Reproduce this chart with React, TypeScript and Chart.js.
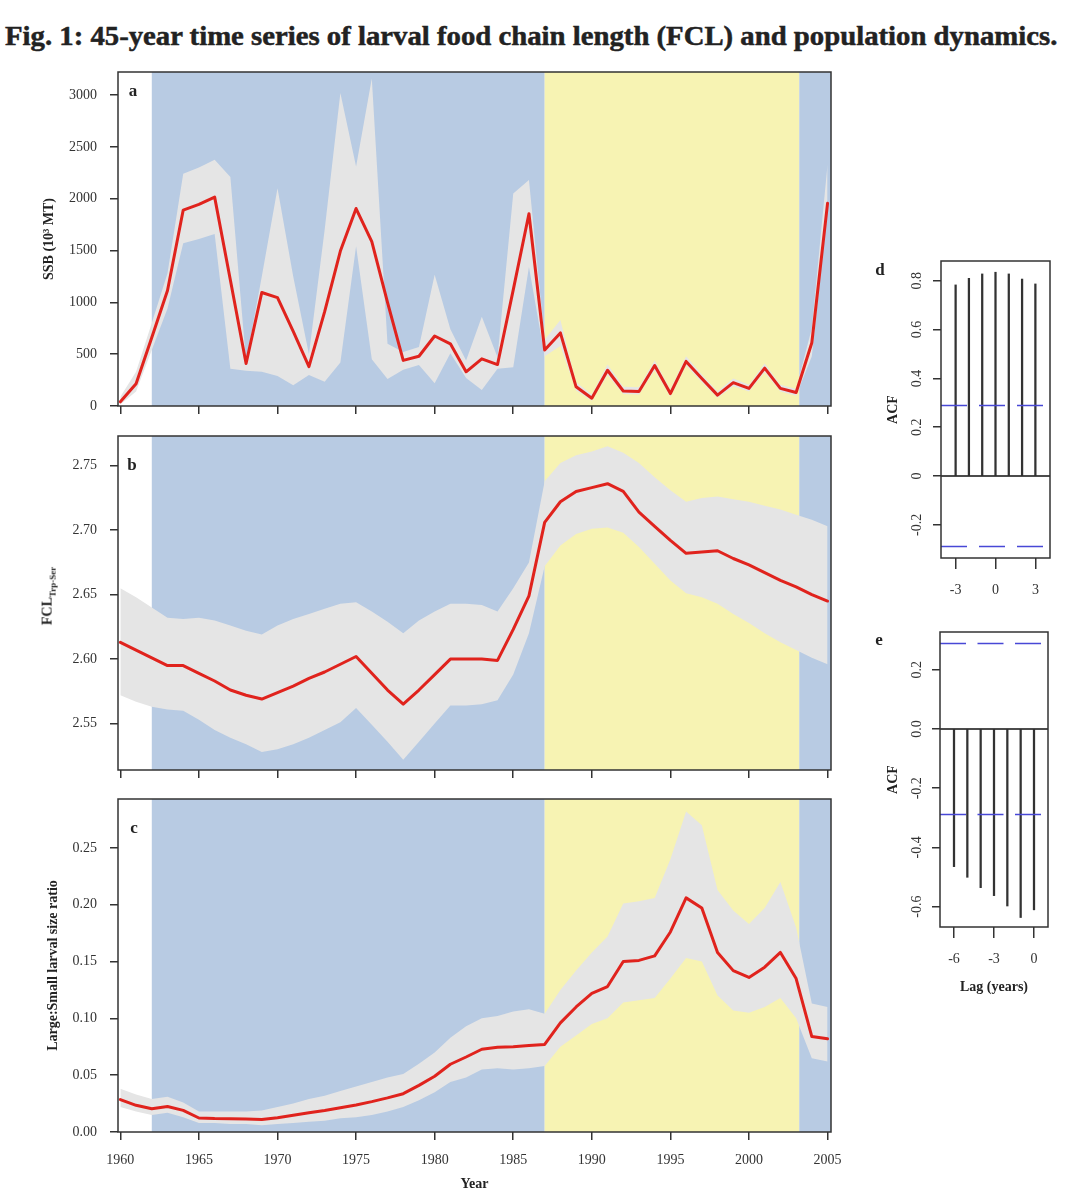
import React, { useEffect, useRef } from 'react';
import { Chart, registerables } from 'chart.js';

Chart.register(...registerables);

// ---------------- DATA ----------------
const YEARS = [
  1960, 1961, 1962, 1963, 1964, 1965, 1966, 1967, 1968, 1969,
  1970, 1971, 1972, 1973, 1974, 1975, 1976, 1977, 1978, 1979,
  1980, 1981, 1982, 1983, 1984, 1985, 1986, 1987, 1988, 1989,
  1990, 1991, 1992, 1993, 1994, 1995, 1996, 1997, 1998, 1999,
  2000, 2001, 2002, 2003, 2004, 2005,
];
const YEAR_TICKS = [1960, 1965, 1970, 1975, 1980, 1985, 1990, 1995, 2000, 2005];

// Panel a: SSB (10^3 MT)
const SSB_MEAN = [
  40, 215, 660, 1115, 1890, 1945, 2015, 1215, 410, 1095,
  1045, 720, 380, 910, 1495, 1905, 1585, 1000, 440, 480,
  675, 600, 330, 455, 400, 1120, 1855, 540, 705, 185,
  75, 345, 145, 140, 390, 120, 430, 265, 105, 225,
  170, 365, 170, 130, 610, 1955,
];
const SSB_UPPER = [
  90, 330, 800, 1280, 2240, 2300, 2375, 2210, 430, 1250,
  2100, 1250, 500, 1700, 3020, 2310, 3160, 600, 520, 570,
  1265, 740, 440, 860, 470, 2050, 2180, 640, 830, 230,
  110, 400, 185, 180, 440, 160, 480, 305, 140, 265,
  205, 410, 205, 165, 750, 2330,
];
const SSB_LOWER = [
  15, 140, 540, 940, 1570, 1610, 1660, 360, 340, 330,
  290, 200, 300, 235, 420, 1540, 450, 260, 350, 395,
  220, 510, 270, 155, 360, 375, 1340, 480, 580, 150,
  50, 300, 115, 110, 345, 90, 390, 230, 80, 190,
  140, 325, 140, 100, 480, 1900,
];
const SSB_TICKS = [0, 500, 1000, 1500, 2000, 2500, 3000];

// Panel b: FCL Trp-Ser
const FCL_MEAN = [
  2.613, 2.607, 2.601, 2.595, 2.595, 2.589, 2.583, 2.576, 2.572, 2.569,
  2.574, 2.579, 2.585, 2.590, 2.596, 2.602, 2.589, 2.576, 2.565, 2.576,
  2.588, 2.600, 2.600, 2.600, 2.599, 2.623, 2.649, 2.706, 2.722, 2.730,
  2.733, 2.736, 2.730, 2.714, 2.703, 2.692, 2.682, 2.683, 2.684, 2.678,
  2.673, 2.667, 2.661, 2.656, 2.650, 2.645,
];
const FCL_UPPER = [
  2.655, 2.648, 2.640, 2.632, 2.631, 2.632, 2.630, 2.626, 2.622, 2.619,
  2.626, 2.631, 2.635, 2.639, 2.643, 2.644, 2.637, 2.629, 2.620, 2.630,
  2.637, 2.643, 2.643, 2.642, 2.637, 2.655, 2.675, 2.738, 2.752, 2.758,
  2.761, 2.765, 2.760, 2.752, 2.741, 2.731, 2.722, 2.725, 2.726, 2.724,
  2.722, 2.719, 2.716, 2.712, 2.708, 2.703,
];
const FCL_LOWER = [
  2.572, 2.567, 2.563, 2.561, 2.560, 2.553, 2.545, 2.539, 2.534, 2.528,
  2.530, 2.534, 2.539, 2.545, 2.551, 2.562, 2.549, 2.536, 2.522, 2.536,
  2.550, 2.564, 2.564, 2.565, 2.568, 2.588, 2.620, 2.672, 2.688, 2.697,
  2.701, 2.702, 2.698, 2.687, 2.674, 2.661, 2.651, 2.648, 2.643, 2.635,
  2.628, 2.620, 2.613, 2.607, 2.601, 2.596,
];
const FCL_TICKS = [2.55, 2.6, 2.65, 2.7, 2.75];

// Panel c: Large:Small larval size ratio
const RATIO_MEAN = [
  0.0285, 0.0235, 0.0205, 0.0225, 0.0190, 0.0123, 0.0118, 0.0117, 0.0114, 0.0110,
  0.0126, 0.0147, 0.0170, 0.0190, 0.0214, 0.0238, 0.0267, 0.0300, 0.0337, 0.0410,
  0.0490, 0.0596, 0.0660, 0.0728, 0.0745, 0.0750, 0.0762, 0.0770, 0.0960, 0.1100,
  0.1220, 0.1280, 0.1500, 0.1510, 0.1550, 0.1760, 0.2060, 0.1970, 0.1580, 0.1420,
  0.1360, 0.1450, 0.1580, 0.1350, 0.0840, 0.0820,
];
const RATIO_UPPER = [
  0.038, 0.033, 0.029, 0.031, 0.026, 0.018, 0.018, 0.018, 0.018, 0.019,
  0.022, 0.025, 0.029, 0.032, 0.036, 0.040, 0.044, 0.048, 0.051, 0.060,
  0.070, 0.083, 0.093, 0.100, 0.102, 0.106, 0.108, 0.104, 0.125, 0.142,
  0.158, 0.172, 0.201, 0.203, 0.206, 0.240, 0.282, 0.270, 0.213, 0.195,
  0.183, 0.197, 0.220, 0.180, 0.113, 0.110,
];
const RATIO_LOWER = [
  0.022, 0.018, 0.015, 0.017, 0.013, 0.008, 0.008, 0.007, 0.007, 0.006,
  0.007, 0.008, 0.009, 0.010, 0.012, 0.013, 0.015, 0.018, 0.022, 0.028,
  0.035, 0.044, 0.048, 0.055, 0.056, 0.055, 0.056, 0.058, 0.075, 0.085,
  0.095, 0.100, 0.114, 0.116, 0.118, 0.135, 0.153, 0.150, 0.120, 0.107,
  0.105, 0.110, 0.118, 0.100, 0.065, 0.062,
];
const RATIO_TICKS = [0, 0.05, 0.1, 0.15, 0.2, 0.25];

// Regime shading (years)
const REGIME_START = [1962, 1987, 2003.2];
const REGIME_END = [1987, 2003.2, 2006];
const REGIME_KIND = ['cool', 'warm', 'cool'];

// Panel d / e: cross-correlation
const ACF_D_LAGS = [-3, -2, -1, 0, 1, 2, 3];
const ACF_D_VALUES = [0.783, 0.810, 0.828, 0.835, 0.828, 0.807, 0.787];
const ACF_D_XTICKS = [-3, 0, 3];
const ACF_D_YTICKS = [-0.2, 0, 0.2, 0.4, 0.6, 0.8];
const ACF_E_LAGS = [-6, -5, -4, -3, -2, -1, 0];
const ACF_E_VALUES = [-0.465, -0.501, -0.536, -0.563, -0.598, -0.637, -0.611];
const ACF_E_XTICKS = [-6, -3, 0];
const ACF_E_YTICKS = [-0.6, -0.4, -0.2, 0, 0.2];
const ACF_CONF = 0.289;

// ---------------- STYLE ----------------
const SERIF = "'Liberation Serif', 'Times New Roman', Times, serif";
const INK = '#333333';
const DARK = '#222222';
const COLORS: Record<string, string> = {
  cool: '#b8cbe3',
  warm: '#f7f3b3',
  band: '#e5e5e5',
  line: '#e0231d',
  conf: '#4848d6',
};

if (typeof document !== 'undefined') {
  document.body.style.margin = '0';
  document.body.style.background = '#ffffff';
}

const regimePlugin = {
  id: 'regimes',
  beforeDatasetsDraw(chart: any) {
    const { ctx, chartArea, scales } = chart;
    ctx.save();
    ctx.beginPath();
    ctx.rect(chartArea.left, chartArea.top, chartArea.right - chartArea.left, chartArea.bottom - chartArea.top);
    ctx.clip();
    for (let i = 0; i < REGIME_START.length; i++) {
      const x0 = scales.x.getPixelForValue(REGIME_START[i]);
      const x1 = scales.x.getPixelForValue(REGIME_END[i]);
      ctx.fillStyle = COLORS[REGIME_KIND[i]];
      ctx.fillRect(x0, chartArea.top, x1 - x0, chartArea.bottom - chartArea.top);
    }
    ctx.restore();
  },
};

const boxPlugin = {
  id: 'box',
  afterDraw(chart: any) {
    const { ctx, chartArea: a } = chart;
    ctx.save();
    ctx.strokeStyle = INK;
    ctx.lineWidth = 1.5;
    ctx.strokeRect(a.left, a.top, a.right - a.left, a.bottom - a.top);
    ctx.restore();
  },
};

const fixSize = (w: number | null, h: number | null) => (s: any) => {
  if (w !== null) s.width = w;
  if (h !== null) s.height = h;
  s.paddingLeft = 0;
  s.paddingRight = 0;
  s.paddingTop = 0;
  s.paddingBottom = 0;
};

const setTicks = (values: number[]) => (s: any) => {
  s.ticks = values.map((v) => ({ value: v }));
};

const toXY = (vals: number[]) => YEARS.map((y, i) => ({ x: y, y: vals[i] }));

type SeriesProps = {
  top: number;
  height: number;
  padTop: number;
  xAxisHeight: number;
  mean: number[];
  upper: number[];
  lower: number[];
  yMin: number;
  yMax: number;
  yTicks: number[];
  yFormat: (v: number) => string;
  yTitle?: string;
  yTitlePad?: number;
  showXLabels: boolean;
};

const LEFT_W = 845;
const LEFT_AXIS_W = 118;
const LEFT_PAD_R = 14;
const X_MIN = 1959.85;
const X_MAX = 2005.22;

function SeriesPanel(p: SeriesProps) {
  const ref = useRef<HTMLCanvasElement | null>(null);
  useEffect(() => {
    if (!ref.current) return;
    const tickFont = { family: SERIF, size: 14 };
    const chart = new Chart(ref.current, {
      type: 'line',
      data: {
        datasets: [
          {
            data: toXY(p.mean),
            borderColor: COLORS.line,
            borderWidth: 3,
            pointRadius: 0,
            fill: false,
            borderJoinStyle: 'round',
            borderCapStyle: 'round',
          },
          {
            data: toXY(p.upper),
            borderColor: 'rgba(0,0,0,0)',
            borderWidth: 0,
            backgroundColor: COLORS.band,
            pointRadius: 0,
            fill: '+1',
          },
          {
            data: toXY(p.lower),
            borderColor: 'rgba(0,0,0,0)',
            borderWidth: 0,
            pointRadius: 0,
            fill: false,
          },
        ],
      } as any,
      options: {
        animation: false,
        responsive: false,
        maintainAspectRatio: false,
        events: [],
        layout: { padding: { top: p.padTop, right: LEFT_PAD_R, left: 0, bottom: 0 } },
        plugins: { legend: { display: false }, tooltip: { enabled: false } },
        scales: {
          x: {
            type: 'linear',
            min: X_MIN,
            max: X_MAX,
            offset: false,
            afterBuildTicks: setTicks(YEAR_TICKS),
            afterFit: fixSize(null, p.xAxisHeight),
            ticks: {
              autoSkip: false,
              minRotation: 0,
              maxRotation: 0,
              padding: 12,
              color: INK,
              font: tickFont,
              callback: (v: any) => (p.showXLabels ? String(v) : ''),
            },
            grid: { display: true, drawOnChartArea: false, drawTicks: true, tickLength: 8, color: INK, lineWidth: 1.5 },
            border: { display: false },
            title: p.showXLabels
              ? { display: true, text: 'Year', color: DARK, font: { family: SERIF, size: 14, weight: 'bold' }, padding: { top: 0, bottom: 7 } }
              : { display: false },
          },
          y: {
            type: 'linear',
            min: p.yMin,
            max: p.yMax,
            afterBuildTicks: setTicks(p.yTicks),
            afterFit: fixSize(LEFT_AXIS_W, null),
            ticks: {
              autoSkip: false,
              padding: 13,
              color: INK,
              font: tickFont,
              callback: (v: any) => p.yFormat(Number(v)),
            },
            grid: { display: true, drawOnChartArea: false, drawTicks: true, tickLength: 8, color: INK, lineWidth: 1.5 },
            border: { display: false },
            title: p.yTitle
              ? { display: true, text: p.yTitle, color: DARK, font: { family: SERIF, size: 14, weight: 'bold' }, padding: { top: p.yTitlePad ?? 40, bottom: 0 } }
              : { display: false },
          },
        },
      } as any,
      plugins: [regimePlugin, boxPlugin],
    });
    return () => chart.destroy();
  }, []);
  return (
    <canvas
      ref={ref}
      width={LEFT_W}
      height={p.height}
      style={{ position: 'absolute', left: 0, top: p.top, width: LEFT_W, height: p.height }}
    />
  );
}

type AcfProps = {
  top: number;
  height: number;
  padTop: number;
  padRight: number;
  axisW: number;
  xAxisHeight: number;
  lags: number[];
  values: number[];
  xTicks: number[];
  yTicks: number[];
  xMin: number;
  xMax: number;
  yMin: number;
  yMax: number;
  yFormat: (v: number) => string;
  labelPad: number;
  xTitle?: string;
  dash: number[];
};

const ACF_LEFT = 860;
const ACF_W = 213;

function AcfPanel(p: AcfProps) {
  const ref = useRef<HTMLCanvasElement | null>(null);
  useEffect(() => {
    if (!ref.current) return;
    const tickFont = { family: SERIF, size: 14 };
    const chart = new Chart(ref.current, {
      type: 'bar',
      data: {
        datasets: [
          {
            type: 'line',
            data: [{ x: p.xMin, y: ACF_CONF }, { x: p.xMax, y: ACF_CONF }],
            borderColor: COLORS.conf,
            borderWidth: 1.5,
            borderDash: p.dash,
            pointRadius: 0,
            fill: false,
          },
          {
            type: 'line',
            data: [{ x: p.xMin, y: -ACF_CONF }, { x: p.xMax, y: -ACF_CONF }],
            borderColor: COLORS.conf,
            borderWidth: 1.5,
            borderDash: p.dash,
            pointRadius: 0,
            fill: false,
          },
          {
            type: 'line',
            data: [{ x: p.xMin, y: 0 }, { x: p.xMax, y: 0 }],
            borderColor: '#111111',
            borderWidth: 1.5,
            pointRadius: 0,
            fill: false,
          },
          {
            type: 'bar',
            data: p.lags.map((l, i) => ({ x: l, y: p.values[i] })),
            backgroundColor: '#333333',
            borderWidth: 0,
            barThickness: 1.6,
          },
        ],
      } as any,
      options: {
        animation: false,
        responsive: false,
        maintainAspectRatio: false,
        events: [],
        layout: { padding: { top: p.padTop, right: p.padRight, left: 0, bottom: 0 } },
        plugins: { legend: { display: false }, tooltip: { enabled: false } },
        scales: {
          x: {
            type: 'linear',
            min: p.xMin,
            max: p.xMax,
            offset: false,
            afterBuildTicks: setTicks(p.xTicks),
            afterFit: fixSize(null, p.xAxisHeight),
            ticks: {
              autoSkip: false,
              minRotation: 0,
              maxRotation: 0,
              padding: 12.5,
              color: INK,
              font: tickFont,
              callback: (v: any) => String(v),
            },
            grid: { display: true, offset: false, drawOnChartArea: false, drawTicks: true, tickLength: 11, color: INK, lineWidth: 1.5 },
            border: { display: false },
            title: p.xTitle
              ? { display: true, text: p.xTitle, color: DARK, font: { family: SERIF, size: 14, weight: 'bold' }, padding: { top: 0, bottom: 9.6 } }
              : { display: false },
          },
          y: {
            type: 'linear',
            min: p.yMin,
            max: p.yMax,
            afterBuildTicks: setTicks(p.yTicks),
            afterFit: fixSize(p.axisW, null),
            ticks: {
              autoSkip: false,
              minRotation: 90,
              maxRotation: 90,
              crossAlign: 'center',
              padding: p.labelPad,
              color: INK,
              font: tickFont,
              callback: (v: any) => p.yFormat(Number(v)),
            },
            grid: { display: true, drawOnChartArea: false, drawTicks: true, tickLength: 8, color: INK, lineWidth: 1.5 },
            border: { display: false },
            title: { display: true, text: 'ACF', color: DARK, font: { family: SERIF, size: 14, weight: 'bold' }, padding: { top: 24.6, bottom: 0 } },
          },
        },
      } as any,
      plugins: [boxPlugin],
    });
    return () => chart.destroy();
  }, []);
  return (
    <canvas
      ref={ref}
      width={ACF_W}
      height={p.height}
      style={{ position: 'absolute', left: ACF_LEFT, top: p.top, width: ACF_W, height: p.height }}
    />
  );
}

function Label(props: { x: number; y: number; size: number; bold?: boolean; rotate?: boolean; children: React.ReactNode }) {
  return (
    <div
      style={{
        position: 'absolute',
        left: props.x,
        top: props.y,
        transform: `translate(-50%, -50%)${props.rotate ? ' rotate(-90deg)' : ''}`,
        fontFamily: SERIF,
        fontSize: props.size,
        fontWeight: props.bold ? 700 : 400,
        color: DARK,
        whiteSpace: 'nowrap',
        lineHeight: 1,
      }}
    >
      {props.children}
    </div>
  );
}

const TITLE = 'Fig. 1: 45-year time series of larval food chain length (FCL) and population dynamics.';

export default function App() {
  const titleRef = useRef<HTMLDivElement | null>(null);
  useEffect(() => {
    const el = titleRef.current;
    if (!el) return;
    const w = el.scrollWidth;
    if (w > 0) el.style.transform = `scaleX(${1052 / w})`;
  }, []);

  const fmt0 = (v: number) => String(Math.round(v));
  const fmt2 = (v: number) => v.toFixed(2);
  const fmtD = (v: number) => (Math.abs(v) < 1e-9 ? '0' : v.toFixed(1));
  const fmtE = (v: number) => (Math.abs(v) < 1e-9 ? '0.0' : v.toFixed(1));

  return (
    <div style={{ position: 'relative', width: 1073, height: 1200, background: '#ffffff', overflow: 'hidden' }}>
      <div
        ref={titleRef}
        style={{
          position: 'absolute',
          left: 5,
          top: 22,
          fontFamily: SERIF,
          fontWeight: 700,
          fontSize: 28,
          lineHeight: '28px',
          color: DARK,
          whiteSpace: 'nowrap',
          transformOrigin: 'left top',
          WebkitTextStroke: '0.5px #222222',
        }}
      >
        {TITLE}
      </div>

      <SeriesPanel
        top={60}
        height={365}
        padTop={12}
        xAxisHeight={19}
        mean={SSB_MEAN}
        upper={SSB_UPPER}
        lower={SSB_LOWER}
        yMin={0}
        yMax={3222}
        yTicks={SSB_TICKS}
        yFormat={fmt0}
        yTitle="SSB (10³ MT)"
        yTitlePad={40.6}
        showXLabels={false}
      />
      <SeriesPanel
        top={425}
        height={365}
        padTop={11}
        xAxisHeight={20}
        mean={FCL_MEAN}
        upper={FCL_UPPER}
        lower={FCL_LOWER}
        yMin={2.514}
        yMax={2.773}
        yTicks={FCL_TICKS}
        yFormat={fmt2}
        showXLabels={false}
      />
      <SeriesPanel
        top={790}
        height={410}
        padTop={9}
        xAxisHeight={68}
        mean={RATIO_MEAN}
        upper={RATIO_UPPER}
        lower={RATIO_LOWER}
        yMin={0}
        yMax={0.293}
        yTicks={RATIO_TICKS}
        yFormat={fmt2}
        yTitle="Large:Small larval size ratio"
        yTitlePad={45}
        showXLabels={true}
      />

      <AcfPanel
        top={245}
        height={365}
        padTop={16}
        padRight={23}
        axisW={81}
        xAxisHeight={52}
        lags={ACF_D_LAGS}
        values={ACF_D_VALUES}
        xTicks={ACF_D_XTICKS}
        yTicks={ACF_D_YTICKS}
        xMin={-4.1}
        xMax={4.1}
        yMin={-0.336}
        yMax={0.881}
        yFormat={fmtD}
        labelPad={5}
        dash={[26, 12]}
      />
      <AcfPanel
        top={615}
        height={390}
        padTop={17}
        padRight={25}
        axisW={80}
        xAxisHeight={78}
        lags={ACF_E_LAGS}
        values={ACF_E_VALUES}
        xTicks={ACF_E_XTICKS}
        yTicks={ACF_E_YTICKS}
        xMin={-7.05}
        xMax={1.05}
        yMin={-0.669}
        yMax={0.328}
        yFormat={fmtE}
        labelPad={4}
        xTitle="Lag (years)"
        dash={[26, 11.5]}
      />

      <Label x={49} y={596} size={14} bold rotate>
        <span>FCL</span>
        <sub style={{ fontSize: 9, verticalAlign: 'sub' }}>Trp-Ser</sub>
      </Label>

      <Label x={133} y={90} size={17} bold>a</Label>
      <Label x={132} y={464} size={17} bold>b</Label>
      <Label x={134} y={827} size={17} bold>c</Label>
      <Label x={880} y={269} size={17} bold>d</Label>
      <Label x={879} y={639} size={17} bold>e</Label>
    </div>
  );
}
